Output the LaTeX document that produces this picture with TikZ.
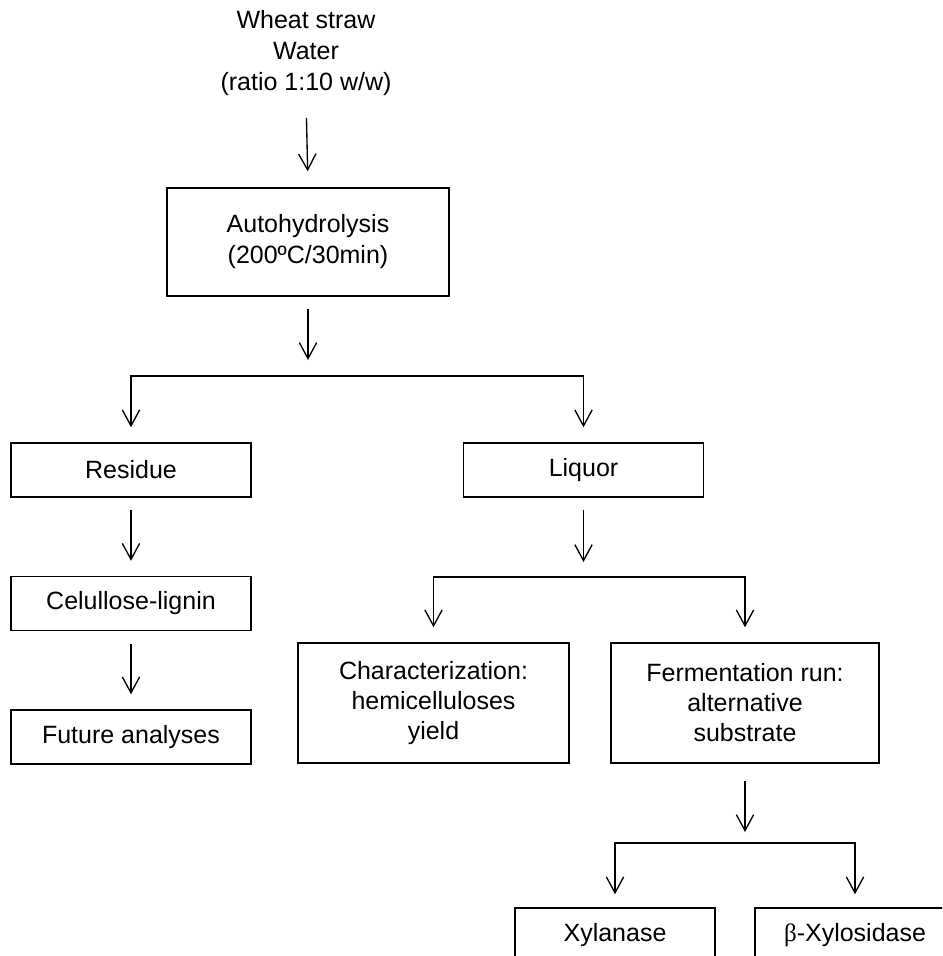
\documentclass[tikz,border=0pt]{standalone}
\usepackage{fontspec}
\setmainfont{Liberation Sans}
\newfontfamily\greekserif{Liberation Serif}
\usetikzlibrary{arrows.meta}
\begin{document}
\begin{tikzpicture}[x=0.75pt,y=-0.75pt,
  txt/.style={align=center, inner sep=0pt, font=\fontsize{18.75}{23.25}\selectfont},
  box/.style={txt, draw, line width=1.1pt},
  smallbox/.style={box, minimum width=180pt, minimum height=40.5pt},
  arr/.style={line width=1pt, line join=miter, -{Straight Barb[length=12pt,width=13pt,line width=1pt]}}]
\useasboundingbox (0,0) rectangle (942,956);
\clip (0,0) rectangle (942,956);
% nodes
\node[txt] (src) at (306,53) {Wheat straw\\Water\\(ratio 1:10 w/w)};
\node[box, minimum width=211.5pt, minimum height=81pt] (auto) at (308,242) {Autohydrolysis\\(200ºC/30min)};
\node[smallbox] (res) at (131,470) {Residue};
\node[smallbox] (liq) at (583.5,470) {Liquor};
\node[smallbox] (cel) at (131,603.5) {Celullose-lignin};
\node[smallbox] (fut) at (131,737) {Future analyses};
\node[box, minimum width=203.25pt, minimum height=90pt, font=\fontsize{18.75}{22.5}\selectfont] (char) at (433.5,703) {Characterization:\\hemicelluloses\\yield};
\node[box, minimum width=201pt, minimum height=90pt, font=\fontsize{18.75}{22.5}\selectfont] (ferm) at (745,703) {Fermentation run:\\alternative\\substrate};
\node[box, minimum width=150pt, minimum height=40.5pt] (xyl) at (615,935) {Xylanase};
\node[box, minimum width=150pt, minimum height=40.5pt] (bxyl) at (855,935) {{\greekserif β}-Xylosidase};
% junctions
\coordinate (j1) at (308,376);
\coordinate (j2) at (583.5,577);
\coordinate (j3) at (745,843);
% connectors
\draw[arr, shorten <=16.5pt, shorten >=12pt] (src.south) -- (auto.north);
\draw[arr, shorten <=9pt, shorten >=12pt] (auto.south) -- (j1);
\draw[arr, shorten >=11.25pt] (j1) -| (res.north);
\draw[arr, shorten >=11.25pt] (j1) -| (liq.north);
\draw[arr, shorten <=9pt, shorten >=11.25pt] (res.south) -- (cel.north);
\draw[arr, shorten <=9.75pt, shorten >=11.25pt] (cel.south) -- (fut.north);
\draw[arr, shorten <=9pt, shorten >=11.25pt] (liq.south) -- (j2);
\draw[arr, shorten >=11.25pt] (j2) -| (char.north);
\draw[arr, shorten >=11.25pt] (j2) -| (ferm.north);
\draw[arr, shorten <=12.75pt, shorten >=8.25pt] (ferm.south) -- (j3);
\draw[arr, shorten >=9.75pt] (j3) -| (xyl.north);
\draw[arr, shorten >=9.75pt] (j3) -| (bxyl.north);
\end{tikzpicture}
\end{document}
